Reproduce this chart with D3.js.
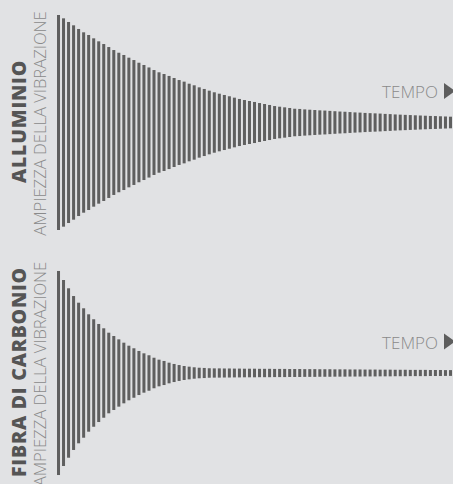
<!DOCTYPE html>
<html lang="it">
<head>
<meta charset="UTF-8">
<title>Ampiezza della vibrazione</title>
<script src="https://cdn.jsdelivr.net/npm/d3@7"></script>
<style>
  body { margin: 0; background: #e1e2e4; }
  svg { display: block; }
</style>
</head>
<body>
<script>
    // ampiezza (% del valore iniziale) per ogni impulso
    var alluminio = [100, 96.9, 93.5, 90.4, 87.0, 83.9, 81.4, 78.3, 75.5, 73.0,
        70.2, 67.4, 64.9, 62.8, 60.3, 58.1, 55.6, 53.5, 51.2, 48.8,
        46.7, 45.1, 43.3, 41.4, 39.5, 38.0, 36.1, 34.6, 32.7, 31.2,
        29.6, 28.1, 26.8, 25.6, 24.4, 23.1, 21.9, 20.9, 20.0, 19.1,
        18.1, 17.2, 16.3, 15.3, 14.7, 14.1, 13.5, 12.8, 12.6, 12.2,
        11.9, 11.6, 11.3, 11.1, 10.8, 10.5, 10.2, 10.0, 9.7, 9.4,
        9.2, 8.9, 8.7, 8.5, 8.3, 8.0, 7.8, 7.5, 7.3, 7.1,
        6.9, 6.7, 6.5, 6.3, 6.1, 6.0, 5.8, 5.6, 5.4];

    var carbonio = [94.9, 86.5, 78.8, 71.6, 65.4, 60.2, 54.6, 50.0, 45.6, 41.6,
        37.5, 34.4, 31.3, 28.2, 25.4, 23.0, 20.5, 18.3, 16.5, 14.2,
        12.4, 11.2, 9.6, 8.4, 7.4, 6.5, 5.9, 5.3, 4.9, 4.7,
        4.4, 4.3, 4.3, 4.2, 4.2, 4.1, 4.1, 4.0, 4.0, 4.0,
        3.9, 3.9, 3.9, 3.8, 3.8, 3.8, 3.7, 3.7, 3.7, 3.6,
        3.6, 3.6, 3.5, 3.5, 3.5, 3.4, 3.4, 3.4, 3.3, 3.3,
        3.3, 3.2, 3.2, 3.2, 3.1, 3.1, 3.1, 3.0, 3.0, 3.0,
        2.9, 2.9, 2.9, 2.9, 2.8, 2.8, 2.8, 2.7, 2.7];

    var materiali = ["ALLUMINIO", "FIBRA DI CARBONIO"];
    var serie = [alluminio, carbonio];
    var etichettaY = "AMPIEZZA DELLA VIBRAZIONE";
    var etichettaX = "TEMPO";

    var width = 453,
        height = 484;

    var svg = d3.select("body").append("svg")
        .attr("width", width)
        .attr("height", height);

    // centri dei due pannelli
    var centri = [122.5, 373];

    var x = d3.scaleBand()
        .domain(d3.range(alluminio.length))
        .range([57, 57 + alluminio.length * 5])
        .paddingInner(0.4)
        .paddingOuter(0);

    // ampiezza -> semi-altezza in pixel
    var y = d3.scaleLinear()
        .domain([0, 100])
        .range([0, 107.5]);

    serie.forEach(function (dati, k) {
        var g = svg.append("g");
        var cy = centri[k];

        g.selectAll("rect")
            .data(dati)
            .enter()
            .append("rect")
            .attr("fill", "#5f5f5f")
            .attr("x", function (d, i) { return x(i); })
            .attr("width", x.bandwidth())
            .attr("y", function (d) { return cy - y(d); })
            .attr("height", function (d) { return 2 * y(d); });

        // titolo materiale (verticale)
        g.append("text")
            .attr("transform", "translate(25.5," + (cy - 1) + ") rotate(-90)")
            .attr("text-anchor", "middle")
            .attr("font-family", "Open Sans")
            .attr("font-weight", 800)
            .attr("font-size", 19.5)
            .attr("letter-spacing", 0.8)
            .attr("fill", "#555")
            .text(materiali[k]);

        g.append("text")
            .attr("transform", "translate(45.5," + (cy + 1) + ") rotate(-90)")
            .attr("text-anchor", "middle")
            .attr("font-family", "Open Sans")
            .attr("font-weight", 300)
            .attr("font-size", 16.6)
            .attr("fill", "#8a8a8a")
            .text(etichettaY);

        // TEMPO ▶
        g.append("text")
            .attr("x", 438)
            .attr("y", cy - 24.5)
            .attr("text-anchor", "end")
            .attr("font-family", "Open Sans")
            .attr("font-weight", 300)
            .attr("font-size", 17)
            .attr("fill", "#8a8a8a")
            .text(etichettaX);

        g.append("path")
            .attr("fill", "#5d5d5d")
            .attr("d", "M444," + (cy - 39.5) + " L455," + (cy - 31.5) +
                " L444," + (cy - 23.5) + " Z");
    });
</script>
</body>
</html>
